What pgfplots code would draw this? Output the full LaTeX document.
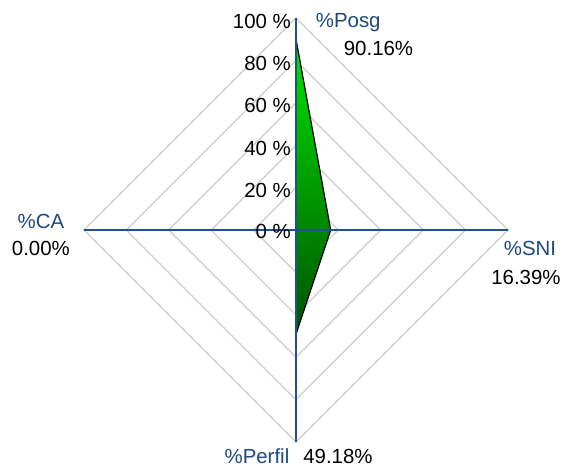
\documentclass[border=0pt]{standalone}
\usepackage{pgfplots}
\pgfplotsset{compat=1.18}
\usepackage{fontspec}
\setmainfont{Liberation Sans}
\definecolor{gridgray}{RGB}{204,204,204}
\definecolor{axblue}{RGB}{31,80,150}
\definecolor{lblblue}{RGB}{31,73,125}
\definecolor{topgreen}{RGB}{0,228,0}
\definecolor{botgreen}{RGB}{0,82,0}
\tikzset{lbl/.style={font=\fontsize{20.5}{24}\selectfont, inner sep=0pt, outer sep=0pt}}
\begin{document}
\begin{tikzpicture}
\begin{axis}[
  x=2.12bp, y=2.12bp,
  xmin=-139.6, xmax=126.9, ymin=-111.8, ymax=108.5,
  hide axis, clip=false,
]
% grid
\foreach \r in {20,40,60,80,100}{
  \edef\tmp{\noexpand\addplot[gridgray, line width=1.2bp, forget plot] coordinates {(0,\r) (\r,0) (0,-\r) (-\r,0) (0,\r)};}
  \tmp
}
% data
\addplot[draw=black, line width=1.2bp, top color=topgreen, bottom color=botgreen]
  coordinates {(0,90.16) (16.39,0) (0,-49.18) (-0.0,0) (0,90.16)};
% axis lines
\addplot[axblue, line width=1.3bp] coordinates {(-100,0) (100,0)};
\addplot[axblue, line width=1.3bp] coordinates {(0,-100) (0,100)};
% tick labels
\node[lbl, anchor=base east] at (axis cs:-2.4,95.2) {100 \%};
\node[lbl, anchor=base east] at (axis cs:-2.4,75.2) {80 \%};
\node[lbl, anchor=base east] at (axis cs:-2.4,55.2) {60 \%};
\node[lbl, anchor=base east] at (axis cs:-2.4,35.2) {40 \%};
\node[lbl, anchor=base east] at (axis cs:-2.4,15.2) {20 \%};
\node[lbl, anchor=base east] at (axis cs:-2.4,-4.2) {0 \%};
% category labels
\node[lbl, anchor=base west, text=lblblue] at (axis cs:9.4,95.3) {\%Posg};
\node[lbl, anchor=base west] at (axis cs:22.6,82.5) {90.16\%};
\node[lbl, anchor=base, text=lblblue] at (axis cs:-120.3,0.8) {\%CA};
\node[lbl, anchor=base] at (axis cs:-120.3,-12.1) {0.00\%};
\node[lbl, anchor=base, text=lblblue] at (axis cs:110.4,-12.1) {\%SNI};
\node[lbl, anchor=base] at (axis cs:108.5,-25.5) {16.39\%};
\node[lbl, anchor=base, text=lblblue] at (axis cs:-18.4,-110) {\%Perfil};
\node[lbl, anchor=base] at (axis cs:19.8,-110) {49.18\%};
\end{axis}
\pgfresetboundingbox
\path (current axis.south west) rectangle (current axis.north east);
\end{tikzpicture}
\end{document}
